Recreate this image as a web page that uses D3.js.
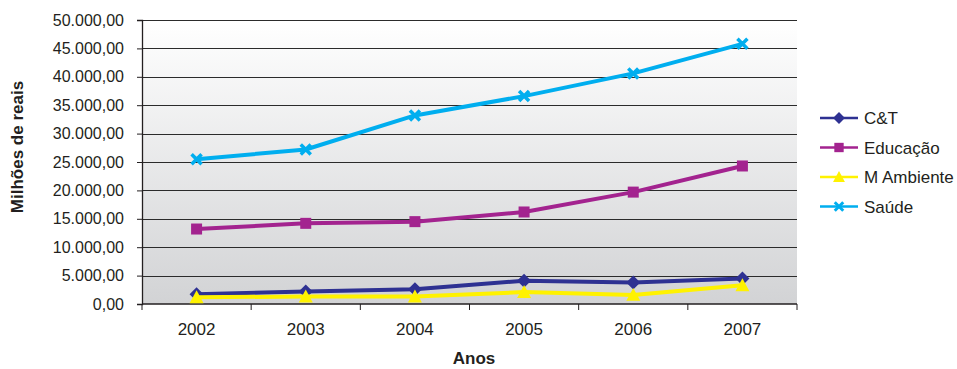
<!DOCTYPE html>
<html>
<head>
<meta charset="utf-8">
<script src="https://cdn.jsdelivr.net/npm/d3@7"></script>
<style>
  body { margin: 0; background: #fff; }
  text { font-family: "Liberation Sans", Arial, sans-serif; fill: #231f20; }
</style>
</head>
<body>
<script>
const years = ["2002", "2003", "2004", "2005", "2006", "2007"];
const seriesNames = ["C&T", "Educação", "M Ambiente", "Saúde"];
const ctValues = [1700, 2200, 2600, 4100, 3800, 4500];
const educacaoValues = [13200, 14200, 14500, 16200, 19700, 24300];
const ambienteValues = [1200, 1300, 1300, 2100, 1600, 3300];
const saudeValues = [25500, 27200, 33200, 36600, 40600, 45800];
const yTicks = [0, 5000, 10000, 15000, 20000, 25000, 30000, 35000, 40000, 45000, 50000];

const allValues = [ctValues, educacaoValues, ambienteValues, saudeValues];
const colors = ["#2e3192", "#a3238f", "#fff200", "#00aeef"];

// plot area
const margin = { top: 20, left: 142 },
    width = 655,
    height = 284;

const svg = d3.select("body")
    .append("svg")
    .attr("width", 957)
    .attr("height", 369);

const defs = svg.append("defs");
const grad = defs.append("linearGradient")
    .attr("id", "bg")
    .attr("x1", 0).attr("y1", 0).attr("x2", 0).attr("y2", 1);
grad.append("stop").attr("offset", "0%").attr("stop-color", "#ffffff");
grad.append("stop").attr("offset", "100%").attr("stop-color", "#d2d3d5");

const g = svg.append("g")
    .attr("transform", `translate(${margin.left},${margin.top})`);

g.append("rect")
    .attr("width", width)
    .attr("height", height)
    .attr("fill", "url(#bg)");

const x = d3.scaleBand()
    .domain(years)
    .range([0, width]);

const y = d3.scaleLinear()
    .domain([0, 50000])
    .range([height, 0]);

const fmt = v => d3.format(",.2f")(v).replace(/,/g, "#").replace(".", ",").replace(/#/g, ".");

// gridlines
g.append("g")
    .selectAll("line")
    .data(yTicks.filter(t => t > 0))
    .enter()
    .append("line")
    .attr("x1", 0)
    .attr("x2", width)
    .attr("y1", d => Math.round(y(d)) + 0.5)
    .attr("y2", d => Math.round(y(d)) + 0.5)
    .attr("stroke", "#2b2b2b")
    .attr("stroke-width", 1);

// y axis
const yAxis = g.append("g")
    .call(d3.axisLeft(y).tickValues(yTicks).tickFormat(fmt).tickSize(5).tickPadding(13));
yAxis.attr("font-family", null);
yAxis.select(".domain").attr("stroke", "#231f20").attr("stroke-width", 1.3);
yAxis.selectAll("line").attr("stroke", "#231f20");
yAxis.selectAll("text").style("font-size", "16px").attr("fill", "#231f20");

// x axis with ticks between categories
const xAxis = g.append("g")
    .attr("transform", `translate(0,${height})`);
xAxis.append("line")
    .attr("x1", 0).attr("x2", width)
    .attr("stroke", "#231f20").attr("stroke-width", 1.3);
xAxis.selectAll(".tk")
    .data(years.concat(["end"]))
    .enter()
    .append("line")
    .attr("x1", (d, i) => i * x.step())
    .attr("x2", (d, i) => i * x.step())
    .attr("y1", 0).attr("y2", 6)
    .attr("stroke", "#231f20");
xAxis.selectAll("text")
    .data(years)
    .enter()
    .append("text")
    .attr("x", d => x(d) + x.bandwidth() / 2)
    .attr("y", 31)
    .attr("text-anchor", "middle")
    .style("font-size", "17px")
    .text(d => d);

// lines and markers
const line = d3.line()
    .x((d, i) => x(years[i]) + x.bandwidth() / 2)
    .y(d => y(d));

function drawMarker(parent, k, cx, cy, scale) {
    const c = colors[k];
    if (k === 0) {
        const s = 7 * scale;
        parent.append("path")
            .attr("d", `M${cx},${cy - s}L${cx + s},${cy}L${cx},${cy + s}L${cx - s},${cy}Z`)
            .attr("fill", c);
    } else if (k === 1) {
        const s = 5.5 * scale;
        parent.append("rect")
            .attr("x", cx - s).attr("y", cy - s)
            .attr("width", 2 * s).attr("height", 2 * s)
            .attr("fill", c);
    } else if (k === 2) {
        const s = 7 * scale;
        parent.append("path")
            .attr("d", `M${cx},${cy - s}L${cx + s},${cy + s * 0.85}L${cx - s},${cy + s * 0.85}Z`)
            .attr("fill", c);
    } else {
        const s = 5 * scale;
        parent.append("path")
            .attr("d", `M${cx - s},${cy - s}L${cx + s},${cy + s}M${cx - s},${cy + s}L${cx + s},${cy - s}`)
            .attr("stroke", c)
            .attr("stroke-width", 3.5 * scale)
            .attr("fill", "none");
    }
}

const drawOrder = [3, 1, 0, 2];
drawOrder.forEach(k => {
    g.append("path")
        .datum(allValues[k])
        .attr("d", line)
        .attr("fill", "none")
        .attr("stroke", colors[k])
        .attr("stroke-width", 4)
        .attr("stroke-linejoin", "round");
    allValues[k].forEach((v, i) => {
        drawMarker(g, k, x(years[i]) + x.bandwidth() / 2, y(v), 1);
    });
});

// legend
const legend = svg.append("g")
    .attr("transform", "translate(820,118)");
seriesNames.forEach((name, i) => {
    const ly = i * 29.5;
    legend.append("line")
        .attr("x1", 0).attr("x2", 38)
        .attr("y1", ly).attr("y2", ly)
        .attr("stroke", colors[i])
        .attr("stroke-width", 2.5);
    drawMarker(legend, i, 19, ly, 0.85);
    legend.append("text")
        .attr("x", 44)
        .attr("y", ly + 6)
        .style("font-size", "17px")
        .text(name);
});

// axis titles
svg.append("text")
    .attr("transform", "translate(23,147) rotate(-90)")
    .attr("text-anchor", "middle")
    .style("font-size", "17px")
    .style("font-weight", "bold")
    .text("Milhões de reais");

svg.append("text")
    .attr("x", 474)
    .attr("y", 364)
    .attr("text-anchor", "middle")
    .style("font-size", "17px")
    .style("font-weight", "bold")
    .text("Anos");
</script>
</body>
</html>
